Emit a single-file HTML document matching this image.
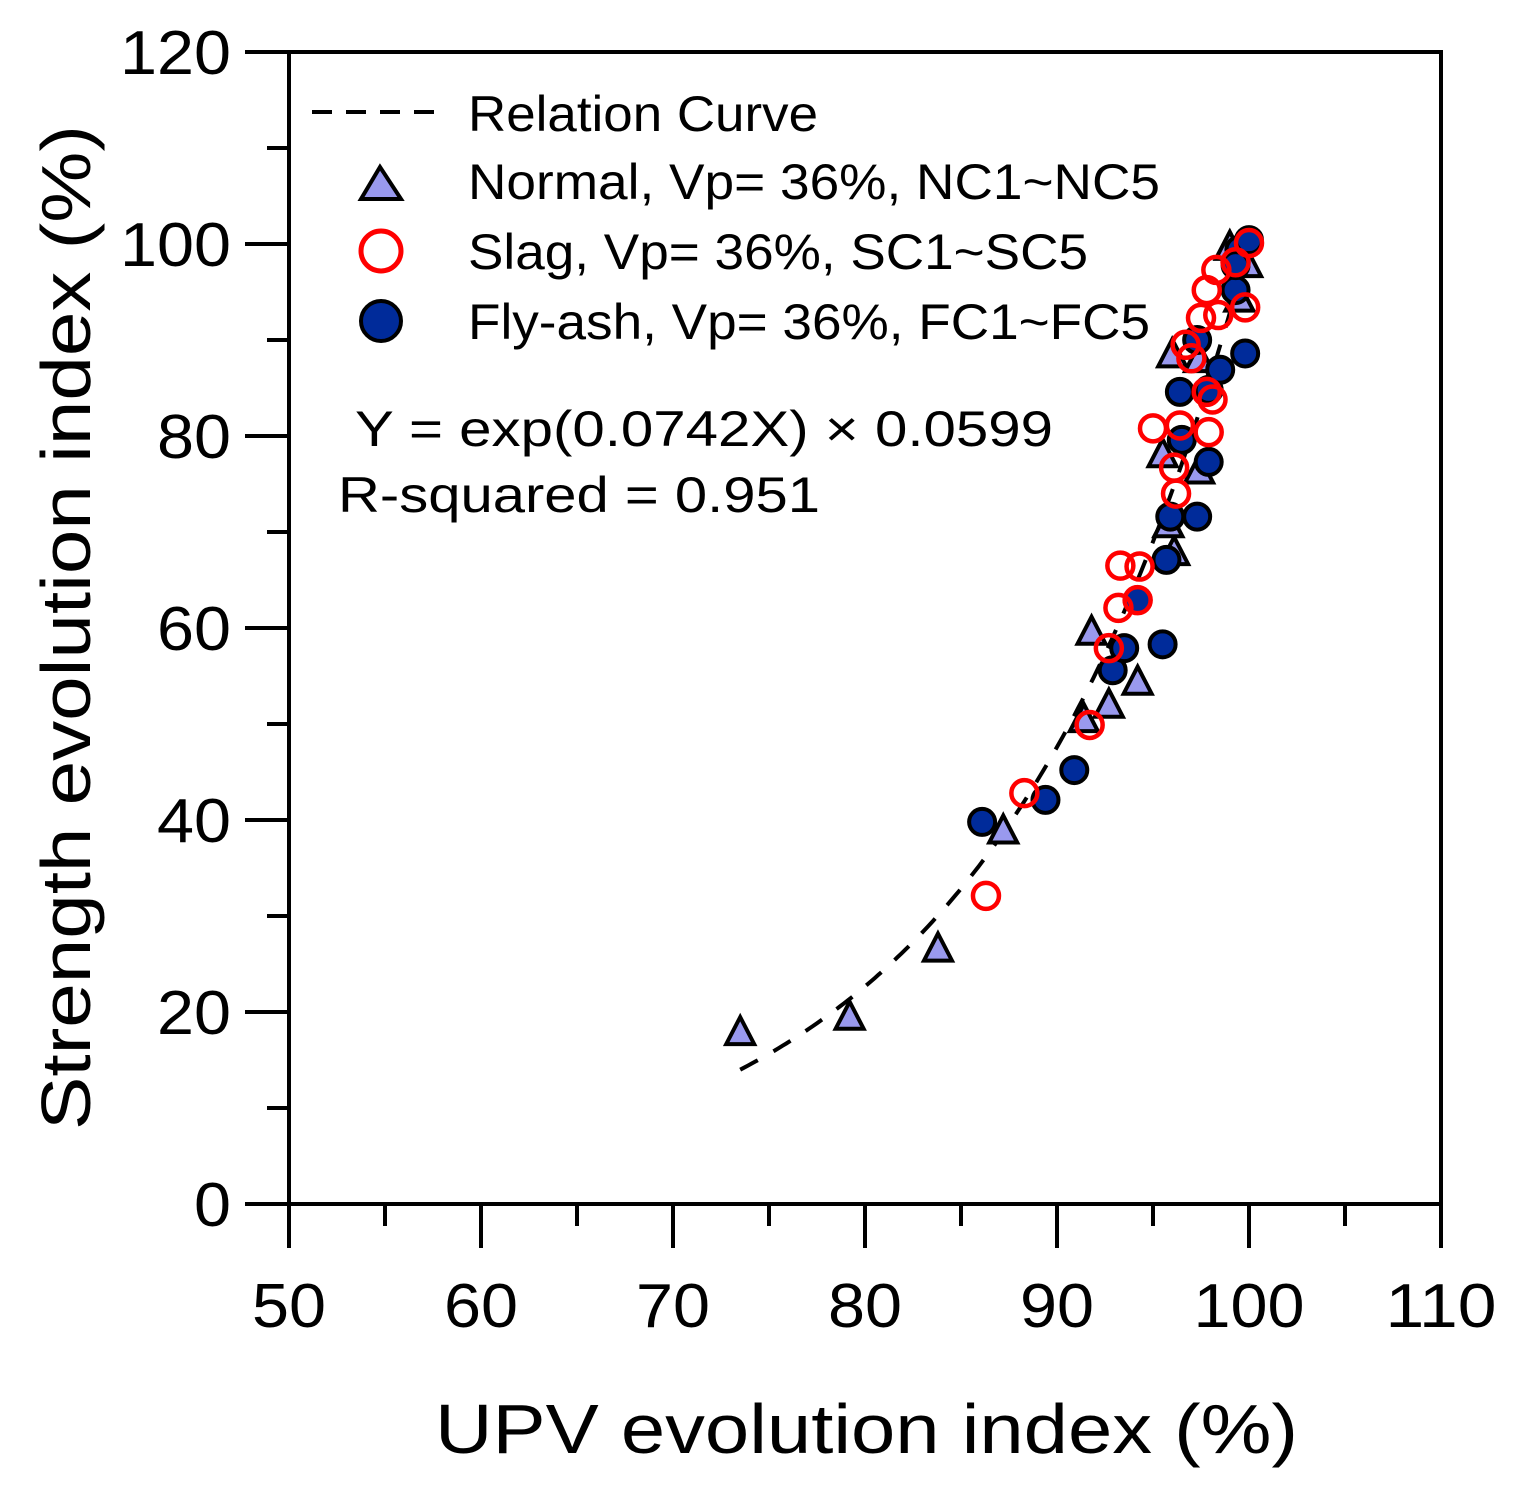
<!DOCTYPE html>
<html><head><meta charset="utf-8"><style>
html,body{margin:0;padding:0;background:#fff}
svg{display:block;font-family:"Liberation Sans",Arial,sans-serif}
</style></head><body>
<svg id="chart" width="1523" height="1510" viewBox="0 0 1523 1510" xmlns="http://www.w3.org/2000/svg">
<g id="axes"></g>
<g id="curve"></g>
<g id="marks"></g>
<g id="legend">
  <line x1="312" y1="112" x2="445" y2="112" stroke="#000" stroke-width="4" stroke-dasharray="20,14"/>
  <text x="468" y="131" font-size="50" textLength="350" lengthAdjust="spacingAndGlyphs">Relation Curve</text>
  <polygon points="380,167 361,199 401,199" fill="#9999ee" stroke="#000" stroke-width="4"/>
  <text x="468" y="199" font-size="50" textLength="692" lengthAdjust="spacingAndGlyphs">Normal, Vp= 36%, NC1~NC5</text>
  <circle cx="381" cy="251" r="20" fill="none" stroke="#ff0000" stroke-width="5"/>
  <text x="468" y="269" font-size="50" textLength="620" lengthAdjust="spacingAndGlyphs">Slag, Vp= 36%, SC1~SC5</text>
  <circle cx="381" cy="321" r="20" fill="#002b9a" stroke="#000" stroke-width="4"/>
  <text x="468" y="339" font-size="50" textLength="682" lengthAdjust="spacingAndGlyphs">Fly-ash, Vp= 36%, FC1~FC5</text>
</g>
<text x="355" y="446" font-size="50" textLength="698" lengthAdjust="spacingAndGlyphs">Y = exp(0.0742X) × 0.0599</text>
<text x="338" y="512" font-size="50" textLength="482" lengthAdjust="spacingAndGlyphs">R-squared = 0.951</text>
<text x="435" y="1453" font-size="70" textLength="863" lengthAdjust="spacingAndGlyphs">UPV evolution index (%)</text>
<text transform="translate(90,1130) rotate(-90)" font-size="70" textLength="1005" lengthAdjust="spacingAndGlyphs">Strength evolution index (%)</text>
<script>
var xTicks=[50,60,70,80,90,100,110];
var yTicks=[0,20,40,60,80,100,120];
var normalX=[73.5,79.2,83.8,87.2,91.8,92.7,94.2,91.4,95.5,96.1,97.4,96.0,95.8,99.0,99.9,99.5,97.4];
var normalY=[17.8,19.4,26.5,38.8,59.5,51.9,54.3,50.4,78,67.8,76.3,88.4,70.7,99.6,97.8,94.2,87.9];
var flyX=[86.1,89.4,90.9,92.9,93.5,95.5,94.2,95.7,95.9,97.3,97.9,96.5,97.9,96.4,98.5,99.8,97.3,99.3,99.5,100,99.3];
var flyY=[39.8,42.1,45.2,55.6,57.9,58.3,62.9,67.1,71.6,71.6,77.3,79.6,84.8,84.6,86.9,88.6,90,95.2,99.4,100.4,97.8];
var slagX=[86.3,88.3,91.7,92.7,93.3,94.3,94.2,93.2,95,96.1,96.2,96.4,97.9,98.1,97,96.7,97.5,97.8,98.3,98.4,99.8,99.3,100,97.8];
var slagY=[32.1,42.8,49.9,57.9,66.5,66.4,62.9,62.1,80.8,76.7,74,81.1,80.4,83.8,88.1,89.5,92.3,95.2,97.3,92.6,93.4,98.1,100.1,84.6];
var curveA=0.0742, curveB=0.0599, curveX0=73.5, curveX1=100.3;
var NS="http://www.w3.org/2000/svg";
function sx(v){return 289+(v-50)*19.2;}
function sy(v){return 1204-v*9.6;}
function mk(t,a,p){var e=document.createElementNS(NS,t);for(var k in a)e.setAttribute(k,a[k]);p.appendChild(e);return e;}
var ax=document.getElementById('axes');
var fr=mk('rect',{x:289,y:52,width:1152,height:1152,fill:'none',stroke:'#000','stroke-width':4},ax);


for(var v=50;v<=110;v+=5){var maj=(v%10===0);var t=mk('line',{x1:sx(v),x2:sx(v),y1:1204,y2:maj?1248:1226,stroke:'#000','stroke-width':4},ax);

}
for(var v=0;v<=120;v+=10){var maj=(v%20===0);var t=mk('line',{x1:maj?245:267,x2:289,y1:sy(v),y2:sy(v),stroke:'#000','stroke-width':4},ax);

}
xTicks.forEach(function(v){var s=String(v);var t=mk('text',{x:sx(v),y:1327,'font-size':62,'text-anchor':'middle',textLength:s.length*37,lengthAdjust:'spacingAndGlyphs'},ax);t.textContent=s;

});
yTicks.forEach(function(v){var s=String(v);var t=mk('text',{x:231,y:sy(v)+22,'font-size':62,'text-anchor':'end',textLength:s.length*37,lengthAdjust:'spacingAndGlyphs'},ax);t.textContent=s;

});
var pts=[];for(var x=curveX0;x<=curveX1;x+=0.2){pts.push(sx(x).toFixed(1)+','+sy(Math.exp(curveA*x)*curveB).toFixed(1));}
var cv=mk('polyline',{points:pts.join(' '),fill:'none',stroke:'#000','stroke-width':4,'stroke-dasharray':'20,18'},document.getElementById('curve'));


var mg=document.getElementById('marks');
normalX.forEach(function(x,i){var cx=sx(x),cy=sy(normalY[i]);
var p=mk('polygon',{points:cx+','+(cy-16)+' '+(cx-14)+','+(cy+11)+' '+(cx+14)+','+(cy+11),fill:'#9999ee',stroke:'#000','stroke-width':4},mg);

});
flyX.forEach(function(x,i){var c=mk('circle',{cx:sx(x),cy:sy(flyY[i]),r:13,fill:'#002b9a',stroke:'#000','stroke-width':4},mg);

});
slagX.forEach(function(x,i){var c=mk('circle',{cx:sx(x),cy:sy(slagY[i]),r:13,fill:'none',stroke:'#ff0000','stroke-width':4.5},mg);

});
</script>
</svg>
</body></html>
